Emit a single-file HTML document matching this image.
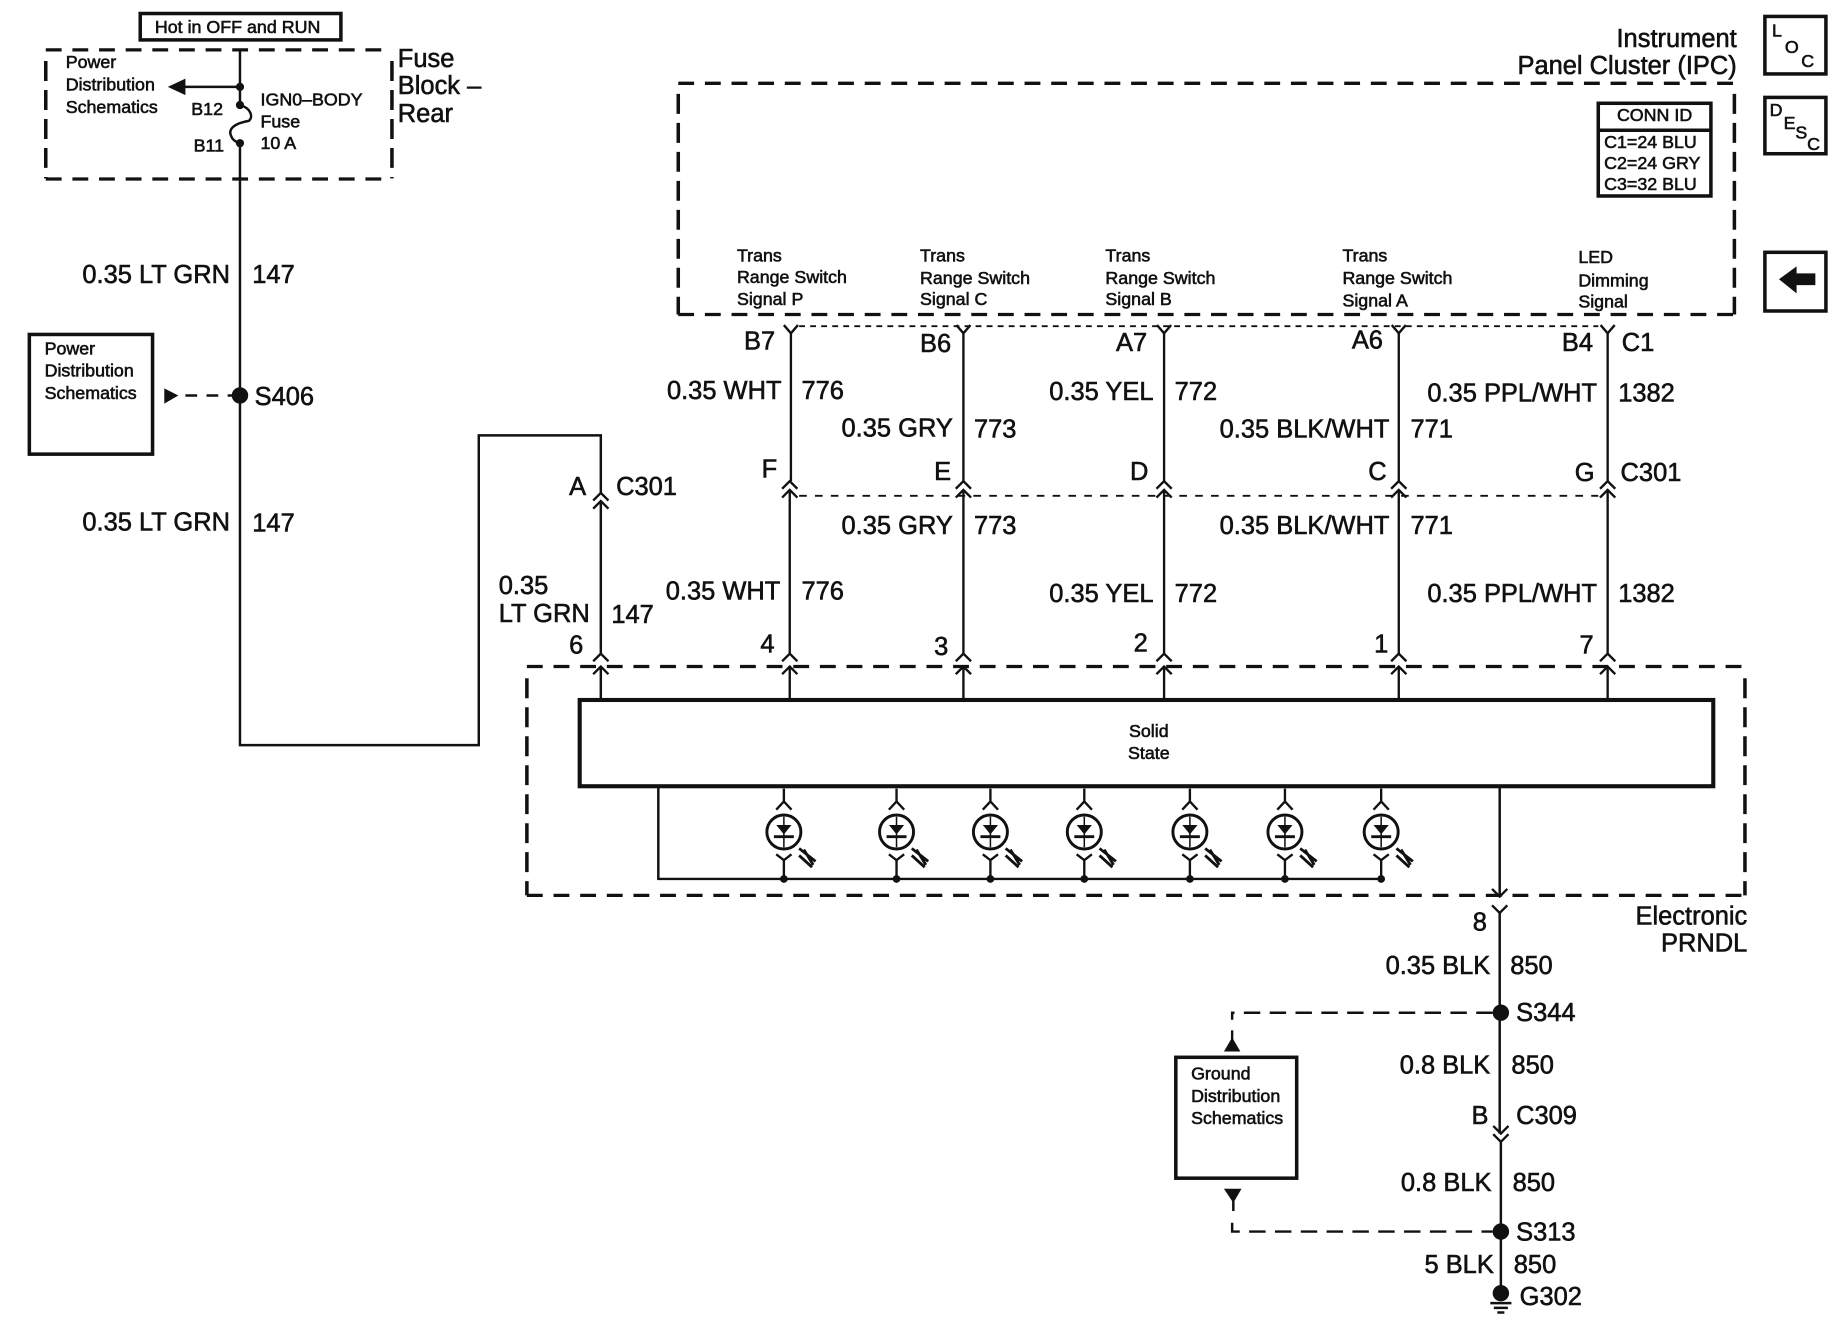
<!DOCTYPE html>
<html><head><meta charset="utf-8"><style>
html,body{margin:0;padding:0;background:#fff}
svg{display:block}
text{font-family:"Liberation Sans",sans-serif;fill:#111;stroke:#111;stroke-width:.5}
.s{font-size:15.2px;stroke-width:.5}.m{font-size:21.7px}.r{text-anchor:end}.c{text-anchor:middle}
.w{fill:none;stroke:#111;stroke-width:2.1}
.t{fill:none;stroke:#111;stroke-width:2}
.dh{fill:none;stroke:#111;stroke-width:2.8;stroke-dasharray:13.5 9.2}
.dv{fill:none;stroke:#111;stroke-width:3;stroke-dasharray:17 7.7}
.b{fill:none;stroke:#111;stroke-width:3}
</style></head><body>
<svg xmlns="http://www.w3.org/2000/svg" width="1840" height="1344" viewBox="0 0 1568 1145.3">
<defs>
<path id="up" d="M-6.5 6.5L0 0L6.5 6.5" fill="none" stroke="#111" stroke-width="2"/>
<path id="dn" d="M-6.5 -6.5L0 0L6.5 -6.5" fill="none" stroke="#111" stroke-width="2"/>
<g id="led">
<path d="M0 -37V-26M-6.5 -19L0 -26L6.5 -19M-6.5 19L0 24L6.5 19M0 24V40" fill="none" stroke="#111" stroke-width="2"/>
<circle r="14.5" fill="#fff" stroke="#111" stroke-width="2.5"/>
<path d="M-6.5 -6H6.5L0 2Z" fill="#111"/>
<path d="M-8.5 4H8.5" fill="none" stroke="#111" stroke-width="2.4"/>
<path d="M0 -13V13" fill="none" stroke="#111" stroke-width="1.3"/>
<path d="M13 14L27 25M13 20L24 30M17 15L25 28" fill="none" stroke="#111" stroke-width="2.4"/>
<circle cy="40" r="3.3" fill="#111"/>
</g>
</defs>
<rect x="119.5" y="11.5" width="171" height="22.5" class="b"/>
<text x="202.5" y="28" class="s c">Hot in OFF and RUN</text>
<path class="dh" d="M39 42.5H334M39 152.5H334"/><path class="dv" d="M39 52V152M334 52V152"/>
<path class="w" d="M204.5 42V74M204.5 74H155M204.5 74V89.5C214 92 216 100 212 103C200 105 194 110 197 116C198 119 201 121 204.5 122V635H408V371H512V420M512 427V557M512 568V596"/>
<path d="M143 74L158 67V81Z" fill="#111"/>
<circle cx="204.5" cy="74" r="3.5" fill="#111"/><circle cx="204.5" cy="89.5" r="3.5" fill="#111"/><circle cx="204.5" cy="122" r="3.5" fill="#111"/>
<text class="s" x="56" y="58">Power</text><text class="s" x="56" y="77">Distribution</text><text class="s" x="56" y="96.5">Schematics</text>
<text class="s" x="163" y="98">B12</text><text class="s" x="165" y="129">B11</text>
<text class="s" x="222" y="90">IGN0–BODY</text><text class="s" x="222" y="108.5">Fuse</text><text class="s" x="222" y="127">10 A</text>
<text class="m" x="339" y="57">Fuse</text><text class="m" x="339" y="80">Block –</text><text class="m" x="339" y="104">Rear</text>

<text class="m r" x="196" y="241">0.35 LT GRN</text><text class="m" x="215" y="241">147</text>
<rect x="25" y="285" width="105" height="102" class="b"/>
<text class="s" x="38" y="302">Power</text><text class="s" x="38" y="321">Distribution</text><text class="s" x="38" y="340">Schematics</text>
<path d="M140 331L152 337L140 344Z" fill="#111"/><path class="w" stroke-dasharray="10 8" d="M158 337H200"/>
<circle cx="204.5" cy="337" r="7" fill="#111"/><text class="m" x="217" y="345">S406</text>
<text class="m r" x="196" y="452">0.35 LT GRN</text><text class="m" x="215" y="453">147</text>

<text class="m" x="485" y="422">A</text><text class="m" x="525" y="422">C301</text>
<use href="#up" x="512" y="420"/><use href="#up" x="512" y="427"/>
<text class="m" x="425" y="506">0.35</text><text class="m" x="425" y="530">LT GRN</text><text class="m" x="521" y="531">147</text>
<text class="m" x="485" y="557">6</text>

<path class="dh" d="M578 71H1478M578 268H1478"/><path class="dv" d="M578 80V268M1478 80V268"/>
<text class="m r" x="1480" y="40">Instrument</text><text class="m r" x="1480" y="63">Panel Cluster (IPC)</text>
<rect x="1362" y="88" width="96" height="79" class="b"/><path class="b" d="M1362 111H1458"/>
<text class="s c" x="1410" y="103">CONN ID</text>
<text class="s" x="1367" y="126">C1=24 BLU</text><text class="s" x="1367" y="144">C2=24 GRY</text><text class="s" x="1367" y="162">C3=32 BLU</text>

<rect x="1504" y="14" width="52" height="49" class="b"/>
<text class="s" x="1510" y="31">L</text><text class="s" x="1521" y="45">O</text><text class="s" x="1535" y="57">C</text>
<rect x="1504" y="83" width="52" height="48" class="b"/>
<text class="s" x="1508" y="99">D</text><text class="s" x="1520" y="110">E</text><text class="s" x="1530" y="118">S</text><text class="s" x="1540" y="128">C</text>
<rect x="1504" y="215" width="52" height="50" class="b"/>
<path d="M1516 238L1531 227V233H1547V243H1531V250Z" fill="#111"/>

<text class="s" x="628" y="223">Trans</text><text class="s" x="628" y="241">Range Switch</text><text class="s" x="628" y="260">Signal P</text>
<text class="s" x="784" y="223">Trans</text><text class="s" x="784" y="242">Range Switch</text><text class="s" x="784" y="260">Signal C</text>
<text class="s" x="942" y="223">Trans</text><text class="s" x="942" y="242">Range Switch</text><text class="s" x="942" y="260">Signal B</text>
<text class="s" x="1144" y="223">Trans</text><text class="s" x="1144" y="242">Range Switch</text><text class="s" x="1144" y="261">Signal A</text>
<text class="s" x="1345" y="224">LED</text><text class="s" x="1345" y="244">Dimming</text><text class="s" x="1345" y="262">Signal</text>

<path d="M681 278H1362" fill="none" stroke="#111" stroke-width="1.6" stroke-dasharray="5 4.4"/>
<path d="M681 422.5H1362" fill="none" stroke="#111" stroke-width="1.6" stroke-dasharray="6.5 7"/>
<path class="t" d="M674 284V410M673 418V557M673 568V596M821 284V410M821 418V557M821 568V596M992 284V410M992 418V557M992 568V596M1192 284V410M1192 418V557M1192 568V596M1370 284V410M1370 418V557M1370 568V596"/>
<path d="M668 277L674 284L680 277M815 277L821 284L827 277M986 277L992 284L998 277M1186 277L1192 284L1198 277M1364 277L1370 284L1376 277" fill="none" stroke="#111" stroke-width="2"/>
<use href="#up" x="673" y="410"/><use href="#up" x="673" y="417.5"/>
<use href="#up" x="821" y="410"/><use href="#up" x="821" y="417.5"/>
<use href="#up" x="992" y="410"/><use href="#up" x="992" y="417.5"/>
<use href="#up" x="1192" y="410"/><use href="#up" x="1192" y="417.5"/>
<use href="#up" x="1370" y="410"/><use href="#up" x="1370" y="417.5"/>
<use href="#up" x="512" y="557"/><use href="#up" x="512" y="568"/>
<use href="#up" x="673" y="557"/><use href="#up" x="673" y="568"/>
<use href="#up" x="821" y="557"/><use href="#up" x="821" y="568"/>
<use href="#up" x="992" y="557"/><use href="#up" x="992" y="568"/>
<use href="#up" x="1192" y="557"/><use href="#up" x="1192" y="568"/>
<use href="#up" x="1370" y="557"/><use href="#up" x="1370" y="568"/>

<text class="m" x="634" y="298">B7</text><text class="m" x="784" y="300">B6</text><text class="m" x="951" y="299">A7</text><text class="m" x="1152" y="297">A6</text><text class="m" x="1331" y="299">B4</text><text class="m" x="1382" y="299">C1</text>
<text class="m r" x="666" y="340">0.35 WHT</text><text class="m" x="683" y="340">776</text>
<text class="m r" x="812" y="372">0.35 GRY</text><text class="m" x="830" y="373">773</text>
<text class="m r" x="983" y="341">0.35 YEL</text><text class="m" x="1001" y="341">772</text>
<text class="m r" x="1184" y="373">0.35 BLK/WHT</text><text class="m" x="1202" y="373">771</text>
<text class="m r" x="1361" y="342">0.35 PPL/WHT</text><text class="m" x="1379" y="342">1382</text>
<text class="m" x="649" y="407">F</text><text class="m" x="796" y="409">E</text><text class="m" x="963" y="409">D</text><text class="m" x="1166" y="409">C</text><text class="m" x="1342" y="410">G</text><text class="m" x="1381" y="410">C301</text>
<text class="m r" x="812" y="455">0.35 GRY</text><text class="m" x="830" y="455">773</text>
<text class="m r" x="1184" y="455">0.35 BLK/WHT</text><text class="m" x="1202" y="455">771</text>
<text class="m r" x="665" y="511">0.35 WHT</text><text class="m" x="683" y="511">776</text>
<text class="m r" x="983" y="513">0.35 YEL</text><text class="m" x="1001" y="513">772</text>
<text class="m r" x="1361" y="513">0.35 PPL/WHT</text><text class="m" x="1379" y="513">1382</text>
<text class="m" x="648" y="556">4</text><text class="m" x="796" y="558">3</text><text class="m" x="966" y="555">2</text><text class="m" x="1171" y="556">1</text><text class="m" x="1346" y="557">7</text>

<path class="dh" d="M449 568H1487M449 763H1487"/><path class="dv" d="M449 578V763M1487 578V763"/>
<rect x="494" y="596.5" width="966" height="73.5" fill="#fff" stroke="#111" stroke-width="3.5"/>
<text class="s c" x="979" y="628">Solid</text><text class="s c" x="979" y="647">State</text>
<path class="w" d="M561 670V749H1177"/>
<use href="#led" x="668" y="709"/><use href="#led" x="764" y="709"/><use href="#led" x="844" y="709"/><use href="#led" x="924" y="709"/><use href="#led" x="1014" y="709"/><use href="#led" x="1095" y="709"/><use href="#led" x="1177" y="709"/>

<path class="w" d="M1278 670V764M1278 778V966M1279 973V1102"/>
<use href="#dn" x="1278" y="764"/><use href="#dn" x="1278" y="778"/>
<text class="m" x="1255" y="793">8</text>
<text class="m r" x="1489" y="788">Electronic</text><text class="m r" x="1489" y="811">PRNDL</text>
<text class="m r" x="1270" y="830">0.35 BLK</text><text class="m" x="1287" y="830">850</text>
<circle cx="1279" cy="863" r="7" fill="#111"/><text class="m" x="1292" y="870">S344</text>
<path class="w" stroke-dasharray="14 8" d="M1272 863H1050V869"/>
<path d="M1050 878V886" stroke="#111" stroke-width="2"/><path d="M1050 884L1057 896H1043Z" fill="#111"/>
<rect x="1002" y="901" width="103" height="103" class="b"/>
<text class="s" x="1015" y="920">Ground</text><text class="s" x="1015" y="939">Distribution</text><text class="s" x="1015" y="958">Schematics</text>
<path d="M1043 1013H1058L1051 1025Z" fill="#111"/><path class="w" d="M1051 1020V1032"/>
<path class="w" stroke-dasharray="14 8" d="M1050 1042V1049.5H1272"/>
<text class="m r" x="1270" y="915">0.8 BLK</text><text class="m" x="1288" y="915">850</text>
<text class="m" x="1254" y="958">B</text><text class="m" x="1292" y="958">C309</text>
<use href="#dn" x="1279" y="966"/><use href="#dn" x="1279" y="973"/>
<text class="m r" x="1271" y="1015">0.8 BLK</text><text class="m" x="1289" y="1015">850</text>
<circle cx="1279" cy="1049.5" r="7" fill="#111"/><text class="m" x="1292" y="1057">S313</text>
<text class="m r" x="1273" y="1085">5 BLK</text><text class="m" x="1290" y="1085">850</text>
<circle cx="1279" cy="1102" r="7" fill="#111"/>
<path class="w" d="M1270 1110.5H1288M1273 1114.5H1285M1276 1118.5H1282"/>
<text class="m" x="1295" y="1112">G302</text>
</svg>
</body></html>
